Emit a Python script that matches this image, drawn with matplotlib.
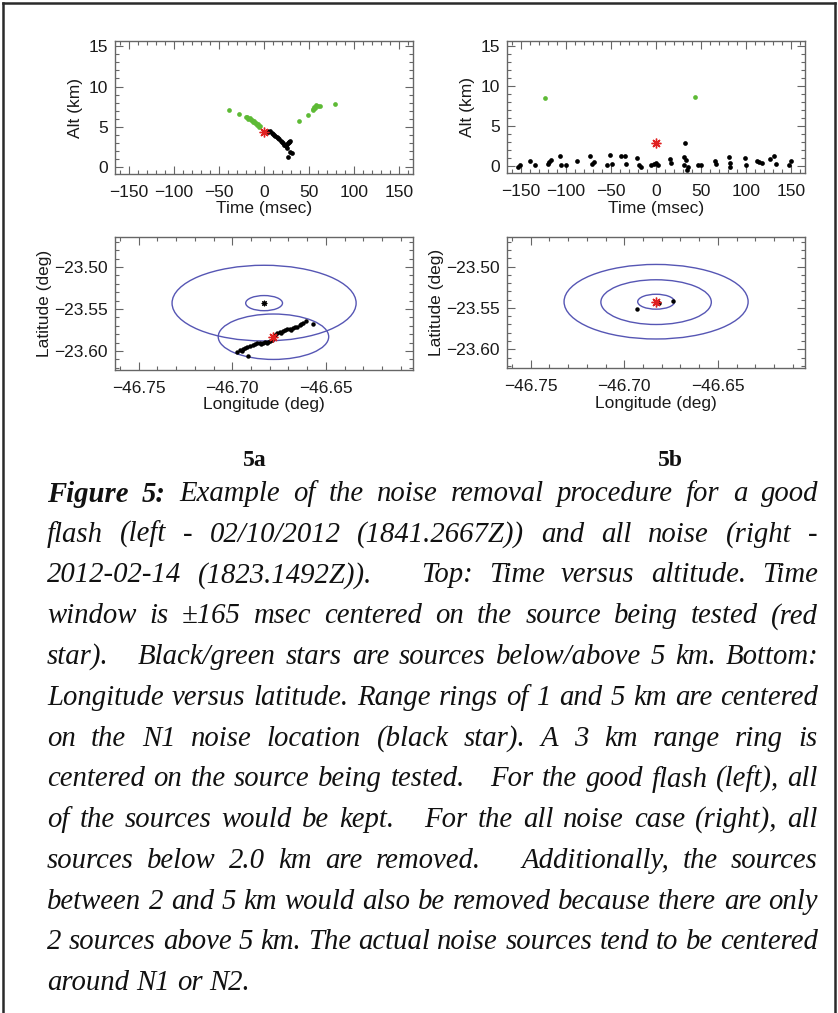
import numpy as np
import matplotlib
matplotlib.use("Agg")
import matplotlib.pyplot as plt
from matplotlib.patches import Ellipse
from matplotlib.lines import Line2D
from matplotlib.ticker import MultipleLocator, FuncFormatter

# ---------------- data ----------------
# 5a top: time (msec) vs altitude (km)
a_green_t = [-38.8, -28.0, -19.9, -18.5, -17.3, -16.0, -14.8, -13.5, -12.6, -11.2, -10.0, -9.0,
             -8.1, -6.8, -5.5, -4.5, 38.4, 49.1, 53.9, 54.6, 55.4, 56.5, 57.6, 60.2, 62.0, 79.0]
a_green_alt = [7.09, 6.59, 6.18, 6.25, 6.01, 6.05, 5.85, 5.90, 5.64, 5.70, 5.43, 5.50,
               5.22, 5.30, 5.01, 5.10, 5.76, 6.51, 7.09, 7.17, 7.42, 7.30, 7.67, 7.59, 7.59, 7.84]
a_black_t = [3.0, 4.8, 6.5, 8.5, 10.0, 11.1, 12.5, 14.0, 15.9, 17.0, 18.5, 19.5, 20.7, 22.1,
             23.0, 24.4, 25.8, 26.5, 27.2, 28.1, 28.8, 25.8, 28.8, 30.6, 26.2]
a_black_alt = [4.50, 4.39, 4.45, 4.19, 4.10, 3.98, 3.90, 3.77, 3.57, 3.50, 3.27, 3.10, 2.95, 2.74,
               2.80, 2.61, 2.86, 3.00, 3.10, 3.15, 3.27, 2.32, 1.91, 1.70, 1.28]
a_star_t, a_star_alt = [0.0], [4.4]

# 5b top
b_green_t = [-122.9, 43.2]
b_green_alt = [8.54, 8.67]
b_black_t = [-153.2, -150.2, -139.2, -134.0, -120.0, -118.1, -116.3, -106.0, -105.2, -99.7,
             -87.5, -72.7, -71.2, -68.3, -54.3, -50.6, -49.1, -38.8, -34.3, -33.2, -21.0,
             -18.5, -16.6, -5.5, -2.6, 0.0, 1.8, 15.9, 16.6, 32.1, 31.4, 33.2, 30.6, 35.1,
             34.3, 46.9, 49.8, 65.3, 66.4, 81.2, 82.3, 82.3, 98.6, 99.7, 111.8, 114.4, 117.0,
             126.6, 131.0, 132.9, 147.6, 149.5]
b_black_alt = [-0.04, 0.12, 0.66, 0.12, 0.25, 0.54, 0.79, 1.28, 0.12, 0.12,
               0.62, 1.28, 0.25, 0.54, 0.12, 1.37, 0.25, 1.28, 1.28, 0.25, 1.08,
               0.12, -0.04, 0.12, 0.29, 0.46, 0.20, 0.95, 0.46, 2.95, 1.20, 0.79, 0.12, -0.04,
               -0.46, 0.12, 0.20, 0.66, 0.25, 1.20, 0.37, -0.04, 1.08, 0.12, 0.66, 0.54, 0.37,
               0.95, 1.28, 0.25, 0.12, 0.66]
b_star_t, b_star_alt = [0.0], [2.95]

# 5a bottom: longitude vs latitude (deg)
a_src_lon = [-46.6976, -46.6960, -46.6949, -46.6940, -46.6933, -46.6922, -46.6917, -46.6905,
             -46.6890, -46.6878, -46.6869, -46.6853, -46.6845, -46.6837, -46.6825, -46.6815,
             -46.6810, -46.6800, -46.6789, -46.6783, -46.6773, -46.6762, -46.6746, -46.6738,
             -46.6730, -46.6718, -46.6708, -46.6692, -46.6684, -46.6676, -46.6665, -46.6655,
             -46.6639, -46.6631, -46.6623, -46.6607, -46.6569]
a_src_lat = [-23.6012, -23.5988, -23.6000, -23.5980, -23.5964, -23.5952, -23.6060, -23.5940,
             -23.5929, -23.5917, -23.5905, -23.5905, -23.5912, -23.5905, -23.5898, -23.5905,
             -23.5893, -23.5880, -23.5869, -23.5833, -23.5810, -23.5786, -23.5774, -23.5780,
             -23.5762, -23.5750, -23.5738, -23.5738, -23.5745, -23.5726, -23.5720, -23.5714,
             -23.5690, -23.5680, -23.5667, -23.5643, -23.5679]
a_n1_lon, a_n1_lat = -46.683, -23.543
a_test_lon, a_test_lat = -46.678, -23.583

# 5b bottom
b_src_lon = [-46.6832, -46.6825, -46.6819, -46.6812, -46.6742, -46.6933]
b_src_lat = [-23.5423, -23.5428, -23.5435, -23.5438, -23.5415, -23.5512]
b_n1_lon, b_n1_lat = -46.683, -23.5425
b_test_lon, b_test_lat = -46.683, -23.543

n1_ring_km = [1, 5]
test_ring_km = [3]

time_ticks = [-150, -100, -50, 0, 50, 100, 150]
alt_ticks = [0, 5, 10, 15]
lon_ticks = [-46.75, -46.70, -46.65]
lat_ticks = [-23.60, -23.55, -23.50]

caption_lines = [
    "Figure 5: Example of the noise removal procedure for a good",
    "flash (left - 02/10/2012 (1841.2667Z)) and all noise (right -",
    "2012-02-14 (1823.1492Z)).   Top: Time versus altitude. Time",
    "window is \u00b1165 msec centered on the source being tested (red",
    "star).   Black/green stars are sources below/above 5 km. Bottom:",
    "Longitude versus latitude. Range rings of 1 and 5 km are centered",
    "on the N1 noise location (black star). A 3 km range ring is",
    "centered on the source being tested.   For the good flash (left), all",
    "of the sources would be kept.   For the all noise case (right), all",
    "sources below 2.0 km are removed.   Additionally, the sources",
    "between 2 and 5 km would also be removed because there are only",
    "2 sources above 5 km. The actual noise sources tend to be centered",
    "around N1 or N2.",
]

# ---------------- style ----------------
W, H = 838, 1013
fig = plt.figure(figsize=(W / 100, H / 100), dpi=100)
fig.patch.set_facecolor("white")
SANS = ["Liberation Sans", "DejaVu Sans"]
SERIF = ["Liberation Serif", "DejaVu Serif"]
AX_COL = "#666666"
GREEN = "#5dba35"
RING = "#5656b4"
TXT = "#1a1a1a"
TICK_FS = 12.5
LAB_FS = 12.5


def px_axes(x0, y0, x1, y1):
    return fig.add_axes([x0 / W, 1 - y1 / H, (x1 - x0) / W, (y1 - y0) / H])


def fmt_int(v, _):
    return f"{v:.0f}".replace("-", "\u2212")


def fmt_2(v, _):
    return f"{v:.2f}".replace("-", "\u2212")


def style(ax, xmin, ymin, xt, yt, fmt):
    for s in ax.spines.values():
        s.set_color(AX_COL)
        s.set_linewidth(1.0)
    ax.set_xticks(xt)
    ax.set_yticks(yt)
    ax.xaxis.set_minor_locator(MultipleLocator(xmin))
    ax.yaxis.set_minor_locator(MultipleLocator(ymin))
    ax.xaxis.set_major_formatter(FuncFormatter(fmt))
    ax.yaxis.set_major_formatter(FuncFormatter(fmt))
    ax.tick_params(which="both", direction="in", top=True, right=True, color=AX_COL,
                   width=0.8, labelsize=TICK_FS, labelcolor=TXT)
    ax.tick_params(axis="x", which="major", pad=8)
    ax.tick_params(axis="y", which="major", pad=5)
    ax.tick_params(which="major", length=6)
    ax.tick_params(which="minor", length=3)
    for lab in ax.get_xticklabels() + ax.get_yticklabels():
        lab.set_family(SANS)


STAR = (8, 2, 0)


def top_panel(ax, gt, ga, bt, ba, st, sa):
    ax.plot(gt, ga, "o", color=GREEN, ms=3.4, mec="none")
    ax.plot(bt, ba, "o", color="black", ms=3.4, mec="none")
    ax.plot(st, sa, marker=STAR, color="#e02020", ms=7, mew=1.0, ls="none")
    ax.set_xlim(-165, 165)
    ax.set_ylim(-0.85, 15.65)
    style(ax, 10, 1, time_ticks, alt_ticks, fmt_int)
    ax.set_xlabel("Time (msec)", fontsize=LAB_FS, family=SANS, color=TXT, labelpad=1)
    ax.set_ylabel("Alt (km)", fontsize=LAB_FS, family=SANS, color=TXT, labelpad=4)


def km_to_deg(r, lat):
    dlat = r / 111.0
    dlon = r / (111.0 * np.cos(np.radians(lat)))
    return dlon, dlat


def bottom_panel(ax, lon, lat, n1lon, n1lat, tlon, tlat):
    for r in n1_ring_km:
        dlon, dlat = km_to_deg(r, n1lat)
        ax.add_patch(Ellipse((n1lon, n1lat), 2 * dlon, 2 * dlat, fill=False,
                             ec=RING, lw=1.0))
    for r in test_ring_km:
        dlon, dlat = km_to_deg(r, tlat)
        ax.add_patch(Ellipse((tlon, tlat), 2 * dlon, 2 * dlat, fill=False,
                             ec=RING, lw=1.0))
    ax.plot(lon, lat, "o", color="black", ms=3.2, mec="none")
    ax.plot([n1lon], [n1lat], marker=STAR, color="black", ms=4, mew=0.8, ls="none")
    ax.plot([tlon], [tlat], marker=STAR, color="#e02020", ms=7, mew=1.0, ls="none")
    ax.set_xlim(-46.7626, -46.6035)
    ax.set_ylim(-23.6226, -23.4643)
    style(ax, 0.01, 0.01, lon_ticks, lat_ticks, fmt_2)
    ax.set_xlabel("Longitude (deg)", fontsize=LAB_FS, family=SANS, color=TXT, labelpad=1)
    ax.set_ylabel("Latitude (deg)", fontsize=LAB_FS, family=SANS, color=TXT, labelpad=2)


ax_tl = px_axes(115, 41, 413, 174)
ax_tr = px_axes(507, 41, 805, 173)
ax_bl = px_axes(115, 237, 413, 370)
ax_br = px_axes(507, 237, 805, 368)

top_panel(ax_tl, a_green_t, a_green_alt, a_black_t, a_black_alt, a_star_t, a_star_alt)
top_panel(ax_tr, b_green_t, b_green_alt, b_black_t, b_black_alt, b_star_t, b_star_alt)
bottom_panel(ax_bl, a_src_lon, a_src_lat, a_n1_lon, a_n1_lat, a_test_lon, a_test_lat)
bottom_panel(ax_br, b_src_lon, b_src_lat, b_n1_lon, b_n1_lat, b_test_lon, b_test_lat)

# ---------------- frame ----------------
FR = dict(color="#2a2a2a", lw=1.8, transform=fig.transFigure)
fig.add_artist(Line2D([3 / W, 3 / W], [0, 1 - 3 / H], **FR))
fig.add_artist(Line2D([3 / W, 835 / W], [1 - 3 / H, 1 - 3 / H], **FR))
fig.add_artist(Line2D([835 / W, 835 / W], [0, 1 - 3 / H], **FR))

# ---------------- sub-labels ----------------
fig.text(255 / W, 1 - 460 / H, "5a", family=SERIF, weight="bold", fontsize=17,
         ha="center", va="center", color="#111111")
fig.text(670 / W, 1 - 460 / H, "5b", family=SERIF, weight="bold", fontsize=17,
         ha="center", va="center", color="#111111")

# ---------------- justified caption ----------------
BASE_FS = 20.0
X0, X1 = 47, 818
Y_FIRST, DY = 494, 40.75

fig.canvas.draw()
renderer = fig.canvas.get_renderer()


def split_line(line):
    words, gaps = [], []
    for tok in line.split(" "):
        if tok == "":
            if gaps:
                gaps[-1] += 1
            continue
        words.append(tok)
        gaps.append(1)
    return words, gaps[:-1]


rows = []
for i, line in enumerate(caption_lines):
    words, gaps = split_line(line)
    texts = []
    for j, w in enumerate(words):
        bold = (i == 0 and j < 2)
        t = fig.text(0, 1 - (Y_FIRST + i * DY) / H, w, family=SERIF, style="italic",
                     weight="bold" if bold else "normal", fontsize=BASE_FS,
                     ha="left", va="center", color="#111111")
        texts.append(t)
    rows.append((texts, gaps))

# choose a size so the tightest justified line has normal word spacing
space_base = BASE_FS * 100 / 72 * 0.25
scales = []
for texts, gaps in rows[:-1]:
    wsum = sum(t.get_window_extent(renderer).width for t in texts)
    scales.append((X1 - X0) / (wsum + space_base * sum(gaps)))
fs = BASE_FS * min(scales)
for texts, _ in rows:
    for t in texts:
        t.set_fontsize(fs)
fig.canvas.draw()
space_w = fs * 100 / 72 * 0.25

for k, (texts, gaps) in enumerate(rows):
    widths = [t.get_window_extent(renderer).width for t in texts]
    justify = k < len(rows) - 1
    if justify and gaps:
        unit = ((X1 - X0) - sum(widths)) / sum(gaps)
    else:
        unit = space_w
    x = X0
    for j, t in enumerate(texts):
        t.set_x(x / W)
        x += widths[j]
        if j < len(gaps):
            x += unit * gaps[j]

fig.savefig("out.png", dpi=100, facecolor="white")
